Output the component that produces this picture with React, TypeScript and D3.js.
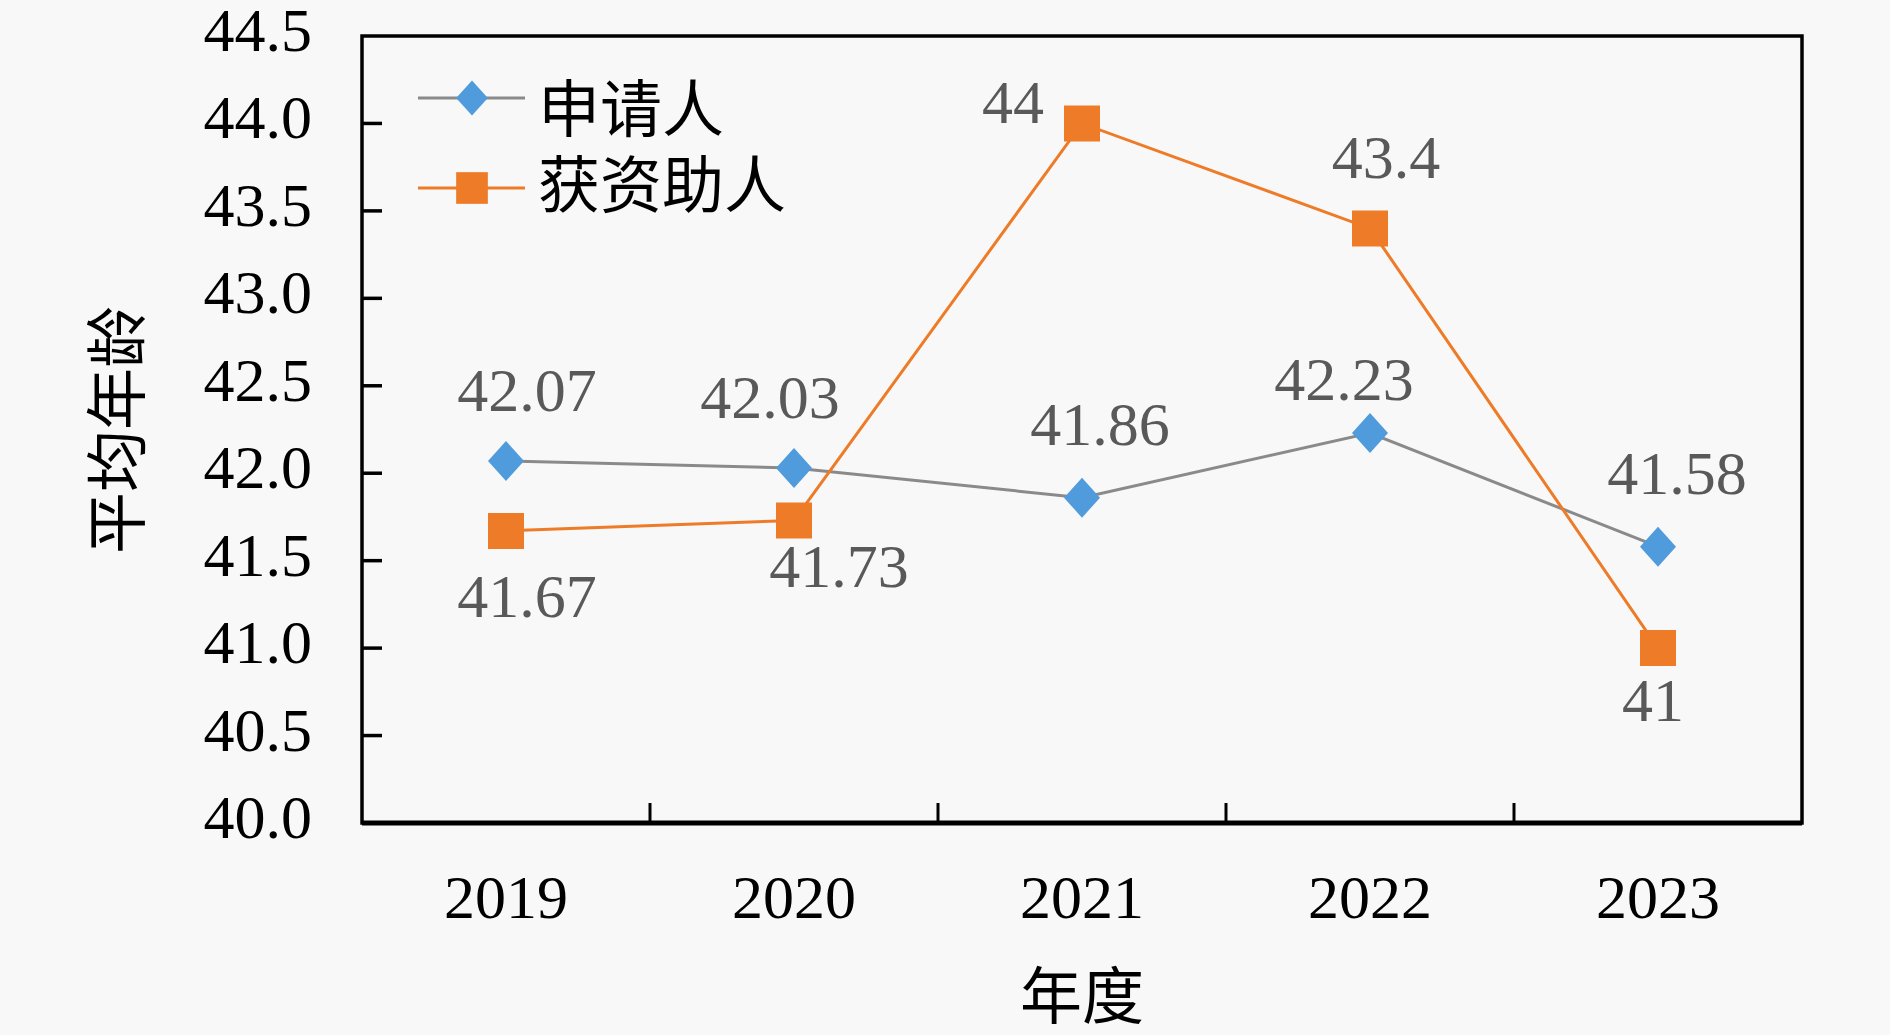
import React, { useEffect } from "react";
import * as d3 from "d3";

// chart data
const years = ["2019", "2020", "2021", "2022", "2023"];
const applicantAges = [42.07, 42.03, 41.86, 42.23, 41.58];
const fundedAges = [41.67, 41.73, 44, 43.4, 41];
const seriesNames = ["申请人", "获资助人"];
const yTickValues = [40, 40.5, 41, 41.5, 42, 42.5, 43, 43.5, 44, 44.5];
const xTitle = "年度";
const yTitle = "平均年龄";

const width = 1890;
const height = 1035;
const plot = { left: 362, right: 1802, top: 36, bottom: 823 };

const numFont = "Liberation Serif";
const cjkFont = "Noto Sans CJK SC";
const fontSize = 62;

const grayLine = "#8a8a8a";
const blue = "#4f9bdb";
const orange = "#ee7b27";
const labelColor = "#595959";

// where each data label sits relative to its point (label centre)
const applicantLabelShift = [
  [21, -70],
  [-24, -70],
  [18, -73],
  [-26, -53],
  [19, -73],
];
const fundedLabelShift = [
  [21, 66],
  [45, 46],
  [-69, -21],
  [16, -71],
  [-5, 52],
];

const diamondPath = "M0,-20L18,0L0,20L-18,0Z";
const squarePath = "M-18,-18H18V18H-18Z";

export default function App() {
  useEffect(() => {
    document.body.style.margin = "0";
  }, []);

  const x = d3
    .scaleBand<string>()
    .domain(years)
    .range([plot.left, plot.right]);
  const cx = (yr: string) => (x(yr) ?? 0) + x.bandwidth() / 2;

  const y = d3.scaleLinear().domain([40, 44.5]).range([plot.bottom, plot.top]);

  const line = d3
    .line<number>()
    .x((_, i) => cx(years[i]))
    .y((d) => y(d));

  const fmt = d3.format(".1f");
  const mid = fontSize * 0.33; // digit centre -> baseline
  const cjkMid = fontSize * 0.38;

  const series = [
    {
      values: applicantAges,
      stroke: grayLine,
      fill: blue,
      marker: diamondPath,
      shift: applicantLabelShift,
    },
    {
      values: fundedAges,
      stroke: orange,
      fill: orange,
      marker: squarePath,
      shift: fundedLabelShift,
    },
  ];

  const legendRows = [98, 188];

  return (
    <svg
      width={width}
      height={height}
      style={{ display: "block", background: "#f8f8f8" }}
    >
      {/* y axis tick labels */}
      {yTickValues.map((v) => (
        <text
          key={"yl" + v}
          x={312}
          y={y(v) + 15}
          textAnchor="end"
          fontFamily={numFont}
          fontSize={fontSize}
          fill="#000"
        >
          {fmt(v)}
        </text>
      ))}
      {/* y ticks (inside) */}
      {yTickValues.slice(1, -1).map((v) => (
        <line
          key={"yt" + v}
          x1={plot.left}
          x2={plot.left + 20}
          y1={y(v)}
          y2={y(v)}
          stroke="#000"
          strokeWidth={3.5}
        />
      ))}
      {/* x ticks at band boundaries */}
      {years.slice(1).map((yr) => (
        <line
          key={"xt" + yr}
          x1={x(yr)}
          x2={x(yr)}
          y1={plot.bottom}
          y2={plot.bottom - 20}
          stroke="#000"
          strokeWidth={3}
        />
      ))}
      {/* x tick labels */}
      {years.map((yr) => (
        <text
          key={"xl" + yr}
          x={cx(yr)}
          y={898 + mid}
          textAnchor="middle"
          fontFamily={numFont}
          fontSize={fontSize}
          fill="#000"
        >
          {yr}
        </text>
      ))}

      {/* series */}
      {series.map((s, si) => (
        <g key={"s" + si}>
          <path
            d={line(s.values) ?? ""}
            fill="none"
            stroke={s.stroke}
            strokeWidth={3}
          />
          {s.values.map((v, i) => (
            <path
              key={"m" + i}
              d={s.marker}
              transform={`translate(${cx(years[i])},${y(v)})`}
              fill={s.fill}
            />
          ))}
        </g>
      ))}
      {series.map((s, si) =>
        s.values.map((v, i) => (
          <text
            key={"dl" + si + i}
            x={cx(years[i]) + s.shift[i][0]}
            y={y(v) + s.shift[i][1] + mid}
            textAnchor="middle"
            fontFamily={numFont}
            fontSize={fontSize}
            fill={labelColor}
          >
            {String(v)}
          </text>
        ))
      )}

      {/* plot frame */}
      <rect
        x={plot.left}
        y={plot.top}
        width={plot.right - plot.left}
        height={plot.bottom - plot.top}
        fill="none"
        stroke="#000"
        strokeWidth={3.5}
      />
      <line
        x1={plot.left}
        x2={plot.right}
        y1={plot.bottom}
        y2={plot.bottom}
        stroke="#000"
        strokeWidth={5}
      />

      {/* legend */}
      {series.map((s, si) => (
        <g key={"lg" + si}>
          <line
            x1={418}
            x2={525}
            y1={legendRows[si]}
            y2={legendRows[si]}
            stroke={s.stroke}
            strokeWidth={3}
          />
          <path
            d={s.marker}
            transform={`translate(472,${legendRows[si]}) scale(0.88)`}
            fill={s.fill}
          />
          <text
            x={538}
            y={legendRows[si] + (si === 0 ? 10 : -4) + cjkMid}
            fontFamily={cjkFont}
            fontSize={fontSize}
            fill="#000"
          >
            {seriesNames[si]}
          </text>
        </g>
      ))}

      {/* axis titles */}
      <text
        x={(plot.left + plot.right) / 2}
        y={995 + cjkMid}
        textAnchor="middle"
        fontFamily={cjkFont}
        fontSize={fontSize}
        fill="#000"
      >
        {xTitle}
      </text>
      <text
        transform={`translate(116,430) rotate(-90)`}
        y={cjkMid}
        textAnchor="middle"
        fontFamily={cjkFont}
        fontSize={fontSize}
        fill="#000"
      >
        {yTitle}
      </text>
    </svg>
  );
}
